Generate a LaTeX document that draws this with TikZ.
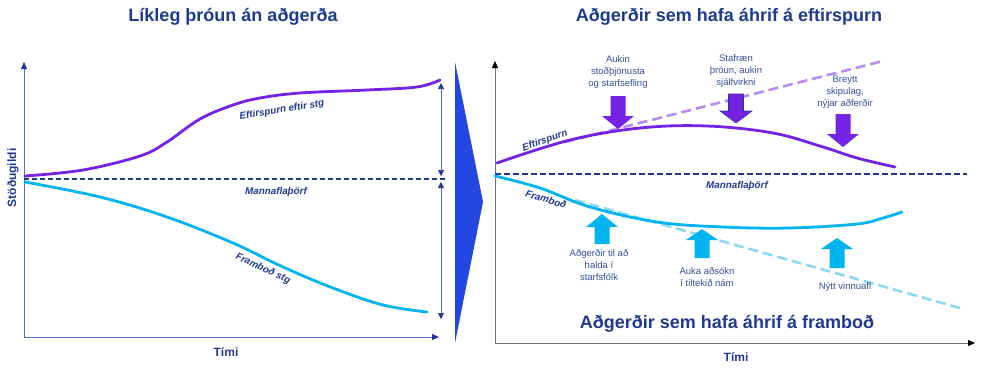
\documentclass[tikz,border=0pt]{standalone}
\usepackage{fontspec}
\setmainfont{Liberation Sans}
\usetikzlibrary{arrows.meta}
\definecolor{titleblue}{HTML}{1F3A93}
\definecolor{lblblue}{HTML}{34519E}
\definecolor{curvepurple}{HTML}{7322E6}
\definecolor{curvecyan}{HTML}{00B4F0}
\definecolor{lightpurple}{HTML}{B68CF0}
\definecolor{lightcyan}{HTML}{8DD8F5}
\definecolor{bigblue}{HTML}{2347E0}
\definecolor{axisblue}{HTML}{4A6BC0}
\definecolor{axisgray}{HTML}{707070}
\definecolor{darkline}{HTML}{1F3A93}
\newcommand{\downblock}[4]{% x, ytop, ybase, ytip
  \fill[curvepurple] (#1-7.5,#2) -- (#1+7.5,#2) -- (#1+7.5,#3) -- (#1+16,#3) -- (#1,#4) -- (#1-16,#3) -- (#1-7.5,#3) -- cycle;}
\newcommand{\upblock}[4]{% x, ybottom, ybase, ytip
  \fill[curvecyan] (#1-7.5,#2) -- (#1+7.5,#2) -- (#1+7.5,#3) -- (#1+16,#3) -- (#1,#4) -- (#1-16,#3) -- (#1-7.5,#3) -- cycle;}
\begin{document}
\begin{tikzpicture}[x=1pt,y=-1pt,
  title/.style={font=\bfseries\fontsize{18}{20}\selectfont, text=titleblue},
  axlabel/.style={font=\bfseries\fontsize{12}{14}\selectfont, text=titleblue},
  curvelbl/.style={font=\bfseries\itshape\fontsize{9.8}{11}\selectfont, text=titleblue},
  smalllbl/.style={font=\fontsize{9.5}{12}\selectfont, text=lblblue, align=center},
  curvep/.style={curvepurple, line width=2.8pt, line cap=round},
  curvec/.style={curvecyan, line width=2.8pt, line cap=round},
  need/.style={darkline, dash pattern=on 5pt off 3pt, line width=1.1pt},
  dimarrow/.style={axisblue, line width=0.7pt, {Triangle[length=6pt,width=6pt,color=darkline]}-{Triangle[length=6pt,width=6pt,color=darkline]}},
]
\useasboundingbox (0,0) rectangle (983,372);
\fill[white] (0,0) rectangle (983,372);

% ---------- LEFT PANEL ----------
\node[title] (tl) at (233,17) {Líkleg þróun án aðgerða};
\coordinate (lo) at (24,337);
\coordinate (ly) at (24,62);
\coordinate (lx) at (439,337);
\draw[axisblue, line width=0.8pt, -{Triangle[length=7pt,width=6pt,color=darkline]}] (lo) -- (ly);
\draw[axisblue, line width=0.8pt, -{Triangle[length=7pt,width=6pt,color=darkline]}] (lo) -- (lx);
\node[axlabel, rotate=90] (lyl) at (13,178) {Stöðugildi};
\node[axlabel] (lxl) at (226,352) {Tími};

\coordinate (ln1) at (24,179);
\coordinate (ln2) at (447,179);
\draw[need] (ln1) -- (ln2);
\node[curvelbl] (lmn) at (276,192) {Mannaflaþörf};

\draw[curvep] plot[smooth, tension=0.6] coordinates {(25,176) (83,170) (140,156) (167,142) (200,119) (233,105) (260,98) (300,93) (367,90) (417,87) (440,80)};
\draw[curvec] plot[smooth, tension=0.6] coordinates {(25,182) (100,197) (167,217) (233,243) (283,267) (333,288) (383,305) (427,312)};
\node[curvelbl, rotate=9] (lel) at (282,110) {Eftirspurn eftir stg};
\node[curvelbl, rotate=-25] (lfl) at (263,269) {Framboð stg};

\coordinate (d1a) at (441,83);
\coordinate (d1b) at (441,176);
\coordinate (d2a) at (441,182);
\coordinate (d2b) at (441,319);
\draw[dimarrow] (d1a) -- (d1b);
\draw[dimarrow] (d2a) -- (d2b);

% ---------- BIG ARROW ----------
\fill[bigblue] (455,62) -- (483,202) -- (455,343) -- cycle;

% ---------- RIGHT PANEL ----------
\node[title] (tr) at (729,17) {Aðgerðir sem hafa áhrif á eftirspurn};
\node[title] (tb) at (727,324) {Aðgerðir sem hafa áhrif á framboð};
\coordinate (ro) at (495,343);
\coordinate (ry) at (495,61);
\coordinate (rx) at (975,343);
\draw[axisgray, line width=0.8pt, -{Triangle[length=7pt,width=6pt,color=black]}] (ro) -- (ry);
\draw[axisgray, line width=0.8pt, -{Triangle[length=7pt,width=6pt,color=black]}] (ro) -- (rx);
\node[axlabel] (rxl) at (736,357) {Tími};

\coordinate (rn1) at (495,174);
\coordinate (rn2) at (967,174);
\draw[need, line width=1.6pt, dash pattern=on 6pt off 3pt] (rn1) -- (rn2);
\node[curvelbl] (rmn) at (737,186) {Mannaflaþörf};

% dashed trend lines
\coordinate (pt1) at (565,142);
\coordinate (pt2) at (883,61);
\draw[lightpurple, line width=2.6pt, dash pattern=on 10pt off 5pt] (pt1) -- (pt2);
\coordinate (ct1) at (575,200);
\coordinate (ct2) at (960,308);
\draw[lightcyan, line width=2.6pt, dash pattern=on 10pt off 5pt] (ct1) -- (ct2);

\draw[curvep] plot[smooth, tension=0.6] coordinates {(497,163) (570,140) (640,128) (707,126) (773,133) (823,147) (857,158) (895,167)};
\draw[curvec] plot[smooth, tension=0.6] coordinates {(495,176) (540,188) (590,207) (657,222) (723,227) (790,228) (857,224) (883,218) (902,212)};
\node[curvelbl, rotate=19] (rel) at (545,141) {Eftirspurn};
\node[curvelbl, rotate=-17] (rfl) at (546,199) {Framboð};

% demand actions
\node[smalllbl] (a1) at (618,72) {Aukin\\stoðþjónusta\\og starfsefling};
\node[smalllbl] (a2) at (736,71) {Stafræn\\þróun, aukin\\sjálfvirkni};
\node[smalllbl] (a3) at (845,92) {Breytt\\skipulag,\\nýjar aðferðir};
\downblock{618}{96}{116}{129}
\downblock{736}{94}{111}{123}
\draw[titleblue!80!curvepurple, line width=0.6pt] (728.5,94) -- (743.5,94) -- (743.5,111) -- (752,111) -- (736,123) -- (720,111) -- (728.5,111) -- cycle;
\downblock{843}{114}{134}{147}

% supply actions
\upblock{602}{244}{227}{214}
\upblock{702}{258}{240}{229}
\upblock{837}{268}{249}{238}
\node[smalllbl] (s1) at (599,265) {Aðgerðir til að\\halda í\\starfsfólk};
\node[smalllbl] (s2) at (707,277) {Auka aðsókn\\í tiltekið nám};
\node[smalllbl] (s3) at (845,287) {Nýtt vinnuafl};
\end{tikzpicture}
\end{document}
